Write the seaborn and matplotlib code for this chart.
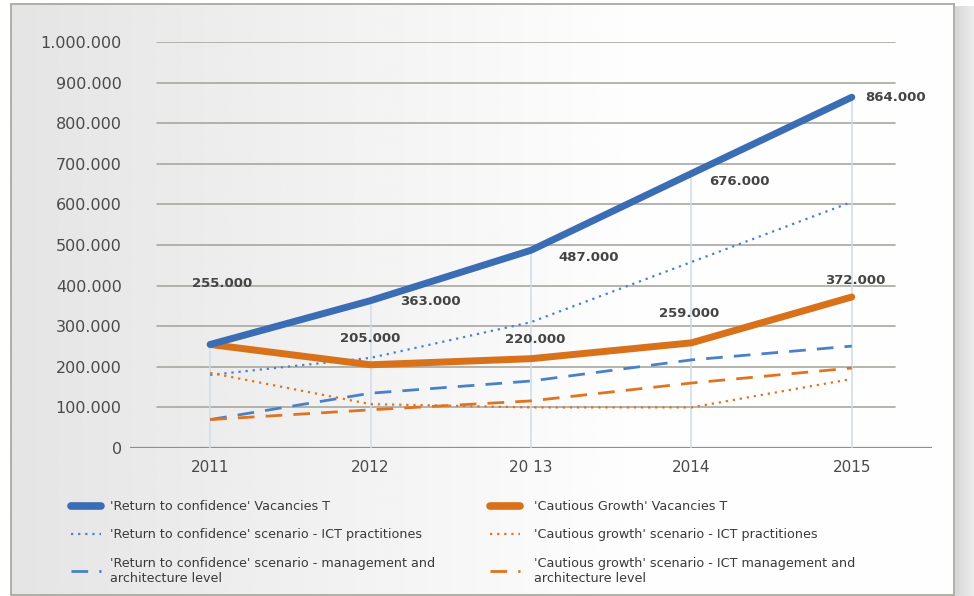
import numpy as np
import pandas as pd
import matplotlib
matplotlib.use("Agg")
import matplotlib.pyplot as plt
import seaborn as sns
from matplotlib.patches import Rectangle
from matplotlib.lines import Line2D

# ---- data ----
years = [2011, 2012, 2013, 2014, 2015]
year_labels = ["2011", "2012", "20 13", "2014", "2015"]
rtc_vacancies = [255000, 363000, 487000, 676000, 864000]
cg_vacancies = [255000, 205000, 220000, 259000, 372000]
rtc_ict = [180000, 222000, 310000, 458000, 606000]
cg_ict = [185000, 108000, 100000, 100000, 170000]
rtc_mgmt = [70000, 135000, 165000, 217000, 251000]
cg_mgmt = [70000, 94000, 116000, 160000, 197000]
y_ticks = [0, 100000, 200000, 300000, 400000, 500000, 600000, 700000, 800000, 900000, 1000000]
y_tick_labels = ["0", "100.000", "200.000", "300.000", "400.000", "500.000",
                 "600.000", "700.000", "800.000", "900.000", "1.000.000"]

labels = {
    "rtc_vac": "'Return to confidence' Vacancies T",
    "cg_vac": "'Cautious Growth' Vacancies T",
    "rtc_ict": "'Return to confidence' scenario - ICT practitiones",
    "cg_ict": "'Cautious growth' scenario - ICT practitiones",
    "rtc_mgmt": "'Return to confidence' scenario - management and\narchitecture level",
    "cg_mgmt": "'Cautious growth' scenario - ICT management and\narchitecture level",
}

def fmt(v):
    return f"{v:,}".replace(",", ".")

sns.set_theme(style="white")
plt.rcParams['font.family'] = ['DejaVu Sans']

W, H = 974, 596
fig = plt.figure(figsize=(W / 100, H / 100), dpi=100)

# background: panel with gradient and right shadow
bg = fig.add_axes([0, 0, 1, 1], zorder=-10)
bg.set_axis_off()
bg.set_xlim(0, W)
bg.set_ylim(H, 0)
gx = np.linspace(0, 1, 400)
grad = np.tile(0.895 + 0.10 * np.clip(gx * 1.5, 0, 1), (10, 1))
bg.imshow(grad, cmap="gray", vmin=0, vmax=1, extent=[11, 954, 595, 4],
          aspect="auto", interpolation="bilinear")
shadow = np.tile(np.linspace(0.84, 0.93, 50), (10, 1))
bg.imshow(shadow, cmap="gray", vmin=0, vmax=1, extent=[955, 974, 596, 6],
          aspect="auto", interpolation="bilinear")
bg.add_patch(Rectangle((11, 4), 943, 591, fill=False, edgecolor="#a9a9a3", lw=1.3))
bg.set_xlim(0, W)
bg.set_ylim(H, 0)

ax = fig.add_axes([130 / W, 1 - 448 / H, 802 / W, 406 / H])
ax.set_facecolor("none")
ax.set_xlim(2010.5, 2015.5)
ax.set_ylim(0, 1000000)

# gridlines
for t in y_ticks[1:]:
    ax.axhline(t, xmin=27 / 802, xmax=765 / 802, color="#a8a8a2", lw=1.2, zorder=1)
ax.axhline(0, color="#8f8f8c", lw=1.6, zorder=1)
# vertical drop lines
ax.vlines(years, 0, rtc_vacancies, color="#cfdcea", lw=1.1, zorder=1)

blue = "#3b6db4"
blue_l = "#4a80c8"
orange = "#e0731f"
orange_d = "#d9711a"

dot = (0, (1, 2.2))
dash = (0, (6, 4))
sns.lineplot(x=years, y=rtc_ict, ax=ax, color=blue_l, lw=1.6, linestyle=dot, zorder=2)
sns.lineplot(x=years, y=cg_ict, ax=ax, color=orange, lw=1.6, linestyle=dot, zorder=2)
sns.lineplot(x=years, y=rtc_mgmt, ax=ax, color=blue_l, lw=2.0, linestyle=dash, zorder=2)
sns.lineplot(x=years, y=cg_mgmt, ax=ax, color=orange, lw=2.0, linestyle=dash, zorder=2)
sns.lineplot(x=years, y=cg_vacancies, ax=ax, color=orange_d, lw=5.0, solid_capstyle="round", zorder=3)
sns.lineplot(x=years, y=rtc_vacancies, ax=ax, color=blue, lw=5.0, solid_capstyle="round", zorder=4)

# data labels
lab_kw = dict(textcoords="offset pixels", fontsize=9.5, color="#444444", fontweight="semibold",
              va="center", ha="center", zorder=6)
rtc_offsets = [(12, 61), (60, -1), (58, -7), (48, -8), (13, 0)]
for i, (x, v) in enumerate(zip(years, rtc_vacancies)):
    dx, dy = rtc_offsets[i]
    kw = dict(lab_kw)
    if i == 4:
        kw["ha"] = "left"
    ax.annotate(fmt(v), (x, v), xytext=(dx, dy), **kw)
cg_offsets = [None, (0, 26), (4, 19), (-2, 29), (3, 16)]
for i, (x, v) in enumerate(zip(years, cg_vacancies)):
    if cg_offsets[i] is None:
        continue
    dx, dy = cg_offsets[i]
    ax.annotate(fmt(v), (x, v), xytext=(dx, dy), **lab_kw)

# ticks
ax.set_xticks(years)
ax.set_xticklabels(year_labels, fontsize=11, color="#4a4a4a")
ax.set_yticks(y_ticks)
ax.set_yticklabels(y_tick_labels, fontsize=11.5, color="#4a4a4a")
ax.tick_params(axis="both", length=0)
ax.tick_params(axis="y", pad=6)
ax.tick_params(axis="x", pad=9)
for s in ax.spines.values():
    s.set_visible(False)
ax.set_xlabel("")
ax.set_ylabel("")

# legends
h_rtc = [Line2D([], [], color=blue, lw=5.5, solid_capstyle="round"),
         Line2D([], [], color=blue_l, lw=1.6, linestyle=dot),
         Line2D([], [], color=blue_l, lw=2.0, linestyle=dash)]
h_cg = [Line2D([], [], color=orange_d, lw=5.5, solid_capstyle="round"),
        Line2D([], [], color=orange, lw=1.6, linestyle=dot),
        Line2D([], [], color=orange, lw=2.0, linestyle=dash)]
leg_kw = dict(loc="upper left", frameon=False, fontsize=9.2, handlelength=2.35,
              labelspacing=1.2, borderpad=0, borderaxespad=0,
              labelcolor="#3a3a3a")
fig.legend(h_rtc, [labels["rtc_vac"], labels["rtc_ict"], labels["rtc_mgmt"]],
           bbox_to_anchor=(71 / W, 1 - 500 / H), handletextpad=0.72, **leg_kw)
fig.legend(h_cg, [labels["cg_vac"], labels["cg_ict"], labels["cg_mgmt"]],
           bbox_to_anchor=(490 / W, 1 - 500 / H), handletextpad=1.08, **leg_kw)

fig.savefig("out.png", dpi=100)
